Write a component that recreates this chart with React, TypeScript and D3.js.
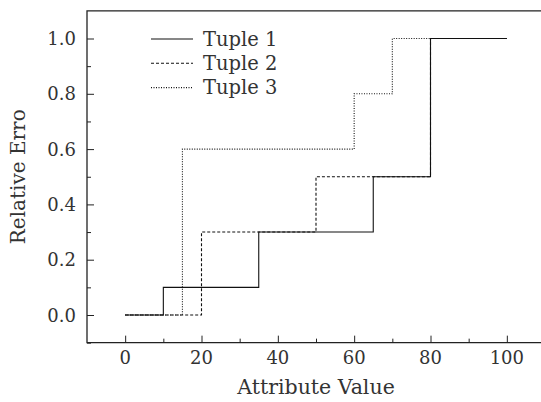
import React, { useEffect, useRef } from "react";
import * as d3 from "d3";

// step points: value holds from x until next x
const tuple1X = [0, 10, 35, 65, 80, 100];
const tuple1Y = [0, 0.1, 0.3, 0.5, 1.0, 1.0];
const tuple2X = [0, 20, 50, 80, 100];
const tuple2Y = [0, 0.3, 0.5, 1.0, 1.0];
const tuple3X = [0, 15, 60, 70, 100];
const tuple3Y = [0, 0.6, 0.8, 1.0, 1.0];

const seriesNames = ["Tuple 1", "Tuple 2", "Tuple 3"];
const dashes = ["none", "3 2", "1 1.5"];

const xTicks = [0, 20, 40, 60, 80, 100];
const yTicks = [0, 0.2, 0.4, 0.6, 0.8, 1.0];

const width = 541;
const height = 402;
const font = "DejaVu Serif";

export default function App() {
    const svgRef = useRef<SVGSVGElement | null>(null);

    useEffect(() => {
        if (!svgRef.current) return;
        const svg = d3.select(svgRef.current);
        svg.selectAll("*").remove();

        const left = 87, top = 10.85, bottom = 342.65, right = 545;

        const x = d3.scaleLinear().domain([-10, 110]).range([left, right]);
        const y = d3.scaleLinear().domain([-0.1, 1.1]).range([bottom, top]);

        // frame (left, top, bottom)
        svg.append("path")
            .attr("d", `M${right},${top}H${left}V${bottom}H${right}`)
            .attr("fill", "none")
            .attr("stroke", "#222")
            .attr("stroke-width", 1.3);

        // x axis ticks pointing inward
        const xAxis = d3.axisTop(x).tickValues(xTicks).tickSize(7).tickFormat(() => "");
        const xMinor = d3.axisTop(x).tickValues(d3.range(10, 110, 20)).tickSize(4).tickFormat(() => "");
        [xAxis, xMinor].forEach(a => {
            const gg = svg.append("g").attr("transform", `translate(0,${bottom})`).call(a);
            gg.select(".domain").remove();
            gg.selectAll("line").attr("stroke", "#222");
        });
        svg.append("g").selectAll("text")
            .data(xTicks)
            .join("text")
            .attr("x", d => x(d))
            .attr("y", 364)
            .attr("text-anchor", "middle")
            .attr("font-family", font)
            .attr("font-size", 18)
            .attr("fill", "#333")
            .text(d => d);

        // y axis ticks pointing inward
        const yAxis = d3.axisRight(y).tickValues(yTicks).tickSize(7).tickFormat(() => "");
        const yMinor = d3.axisRight(y).tickValues([-0.1, 0.1, 0.3, 0.5, 0.7, 0.9]).tickSize(4).tickFormat(() => "");
        [yAxis, yMinor].forEach(a => {
            const gg = svg.append("g").attr("transform", `translate(${left},0)`).call(a);
            gg.select(".domain").remove();
            gg.selectAll("line").attr("stroke", "#222");
        });
        svg.append("g").selectAll("text")
            .data(yTicks)
            .join("text")
            .attr("x", left - 11)
            .attr("y", d => y(d) + 6.5)
            .attr("text-anchor", "end")
            .attr("font-family", font)
            .attr("font-size", 18)
            .attr("fill", "#333")
            .text(d => d.toFixed(1));

        // axis titles
        svg.append("text")
            .attr("x", (x(0) + x(100)) / 2)
            .attr("y", 394)
            .attr("text-anchor", "middle")
            .attr("font-family", font)
            .attr("font-size", 20.5)
            .attr("fill", "#333")
            .text("Attribute Value");
        svg.append("text")
            .attr("transform", `translate(25,${(top + bottom) / 2}) rotate(-90)`)
            .attr("text-anchor", "middle")
            .attr("font-family", font)
            .attr("font-size", 20)
            .attr("fill", "#333")
            .text("Relative Erro");

        // step lines
        const line = d3.line<[number, number]>()
            .x(d => x(d[0]))
            .y(d => y(d[1]))
            .curve(d3.curveStepAfter);
        const all = [
            [tuple1X, tuple1Y],
            [tuple2X, tuple2Y],
            [tuple3X, tuple3Y],
        ];
        all.forEach(([xs, ys], i) => {
            const pts = xs.map((v, j) => [v, ys[j]] as [number, number]);
            svg.append("path")
                .attr("d", line(pts))
                .attr("fill", "none")
                .attr("stroke", "#111")
                .attr("stroke-width", 1.1)
                .attr("stroke-dasharray", dashes[i]);
        });

        // legend
        const lg = svg.append("g").attr("transform", "translate(151,39)");
        seriesNames.forEach((name, i) => {
            lg.append("line")
                .attr("x1", 0)
                .attr("x2", 42)
                .attr("y1", i * 24.3)
                .attr("y2", i * 24.3)
                .attr("stroke", "#111")
                .attr("stroke-width", 1.1)
                .attr("stroke-dasharray", dashes[i]);
            lg.append("text")
                .attr("x", 52)
                .attr("y", i * 24.3 + 6.5)
                .attr("font-family", font)
                .attr("font-size", 19.5)
                .attr("fill", "#333")
                .text(name);
        });
    }, []);

    return (
        <svg
            ref={svgRef}
            width={width}
            height={height}
            style={{ position: "absolute", left: 0, top: 0, background: "#fff" }}
        />
    );
}
